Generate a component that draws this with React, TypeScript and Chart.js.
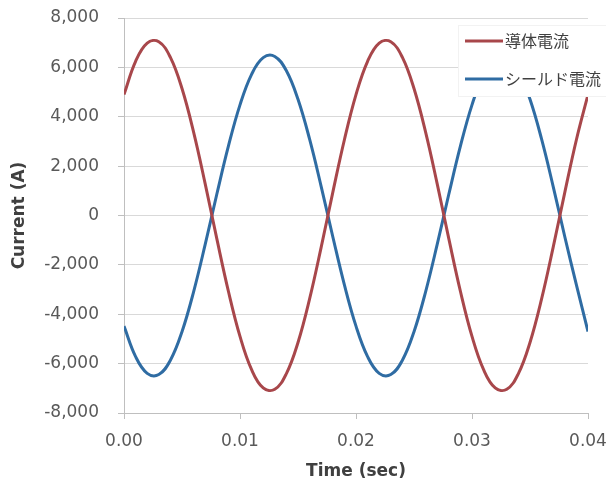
import React, { useEffect, useRef } from 'react';
import { Chart, registerables } from 'chart.js';

Chart.register(...registerables);

const timeSec = [
  0, 0.001, 0.002, 0.003, 0.004, 0.005, 0.006, 0.007, 0.008, 0.009,
  0.01, 0.011, 0.012, 0.013, 0.014, 0.015, 0.016, 0.017, 0.018, 0.019,
  0.02, 0.021, 0.022, 0.023, 0.024, 0.025, 0.026, 0.027, 0.028, 0.029,
  0.03, 0.031, 0.032, 0.033, 0.034, 0.035, 0.036, 0.037, 0.038, 0.039, 0.04,
];

const conductorCurrent = [
  4900, 6245, 6984, 7038, 6403, 5142, 3377, 1282, -939, -3068,
  -4896, -6245, -6984, -7038, -6403, -5142, -3377, -1282, 939, 3068,
  4896, 6245, 6984, 7038, 6403, 5142, 3377, 1282, -939, -3068,
  -4896, -6245, -6984, -7038, -6403, -5142, -3377, -1282, 939, 3068, 4896,
];

const shieldCurrent = [
  -4482, -5717, -6393, -6443, -5862, -4707, -3091, -1173, 860, 2809,
  4482, 5717, 6393, 6443, 5862, 4707, 3091, 1173, -860, -2809,
  -4482, -5717, -6393, -6443, -5862, -4707, -3091, -1173, 860, 2809,
  4482, 5717, 6393, 6443, 5862, 4707, 3091, 1173, -860, -2809, -4700,
];

const seriesNames = ['導体電流', 'シールド電流'];
const seriesColors = ['#a8474b', '#2f6ca3'];
const yTickValues = [-8000, -6000, -4000, -2000, 0, 2000, 4000, 6000, 8000];
const xTickValues = [0, 0.01, 0.02, 0.03, 0.04];
const xTitle = 'Time (sec)';
const yTitle = 'Current (A)';

const FONT = "'DejaVu Sans', Verdana, sans-serif";
const CJK = "'Noto Sans CJK JP', sans-serif";

const boxLegend = {
  id: 'boxLegend',
  afterDraw(chart: any) {
    const { ctx, chartArea } = chart;
    const bx = chartArea.right - 130;
    const by = chartArea.top + 7;
    const bw = 150;
    const bh = 72;
    ctx.save();
    ctx.fillStyle = '#ffffff';
    ctx.fillRect(bx, by, bw, bh);
    ctx.strokeStyle = '#f2f2f2';
    ctx.lineWidth = 1;
    ctx.strokeRect(bx + 0.5, by + 0.5, bw - 1, bh - 1);
    chart.data.datasets.forEach((ds: any, i: number) => {
      const y = by + 16 + i * 38;
      ctx.strokeStyle = ds.borderColor;
      ctx.lineWidth = 3;
      ctx.beginPath();
      ctx.moveTo(bx + 7, y);
      ctx.lineTo(bx + 45, y);
      ctx.stroke();
      ctx.fillStyle = '#404040';
      ctx.font = `16px ${CJK}`;
      ctx.textBaseline = 'middle';
      ctx.textAlign = 'left';
      ctx.fillText(ds.label, bx + 47, y);
    });
    ctx.restore();
  },
};

export default function App() {
  const ref = useRef<HTMLCanvasElement | null>(null);

  useEffect(() => {
    if (!ref.current) return;
    const datasets = [conductorCurrent, shieldCurrent].map((vals, i) => ({
      label: seriesNames[i],
      data: timeSec.map((t, k) => ({ x: t, y: vals[k] })),
      borderColor: seriesColors[i],
      backgroundColor: seriesColors[i],
      borderWidth: 3,
      pointRadius: 0,
      tension: 0.4,
      fill: false,
    }));
    const chart = new Chart(ref.current, {
      type: 'line',
      data: { datasets },
      plugins: [boxLegend],
      options: {
        responsive: false,
        animation: false,
        layout: { padding: { top: 18, right: 18, left: 0, bottom: 0 } },
        plugins: { legend: { display: false }, tooltip: { enabled: false } },
        scales: {
          x: {
            type: 'linear',
            min: 0,
            max: 0.04,
            afterBuildTicks: (scale: any) => {
              scale.ticks = xTickValues.map((v) => ({ value: v }));
            },
            afterFit: (scale: any) => {
              scale.height = 76;
              scale.paddingLeft = 0;
              scale.paddingRight = 0;
            },
            ticks: {
              callback: (v: any) => Number(v).toFixed(2),
              font: { family: FONT, size: 17 },
              color: '#595959',
              padding: 12,
              maxRotation: 0,
            },
            grid: {
              drawOnChartArea: false,
              drawTicks: true,
              tickLength: 6,
              color: '#bfbfbf',
              tickColor: '#bfbfbf',
            },
            border: { color: '#bfbfbf', width: 1 },
            title: {
              display: true,
              text: xTitle,
              font: { family: FONT, size: 17, weight: 'bold' },
              color: '#404040',
              padding: { top: 0, bottom: 7 },
            },
          },
          y: {
            type: 'linear',
            min: -8000,
            max: 8000,
            afterBuildTicks: (scale: any) => {
              scale.ticks = yTickValues.map((v) => ({ value: v }));
            },
            afterFit: (scale: any) => {
              scale.width = 124;
              scale.paddingTop = 0;
              scale.paddingBottom = 0;
            },
            ticks: {
              callback: (v: any) => Number(v).toLocaleString('en-US'),
              font: { family: FONT, size: 17 },
              color: '#595959',
              padding: 19,
            },
            grid: {
              color: '#d9d9d9',
              tickColor: '#bfbfbf',
              tickLength: 6,
            },
            border: { color: '#bfbfbf', width: 1 },
            title: {
              display: true,
              text: yTitle,
              font: { family: FONT, size: 17, weight: 'bold' },
              color: '#404040',
              padding: { top: 9, bottom: 0 },
            },
          },
        },
      },
    });
    return () => chart.destroy();
  }, []);

  return (
    <div style={{ position: 'absolute', left: 0, top: 0, width: 606, height: 489 }}>
      <canvas ref={ref} width={606} height={489} style={{ display: 'block' }} />
    </div>
  );
}
